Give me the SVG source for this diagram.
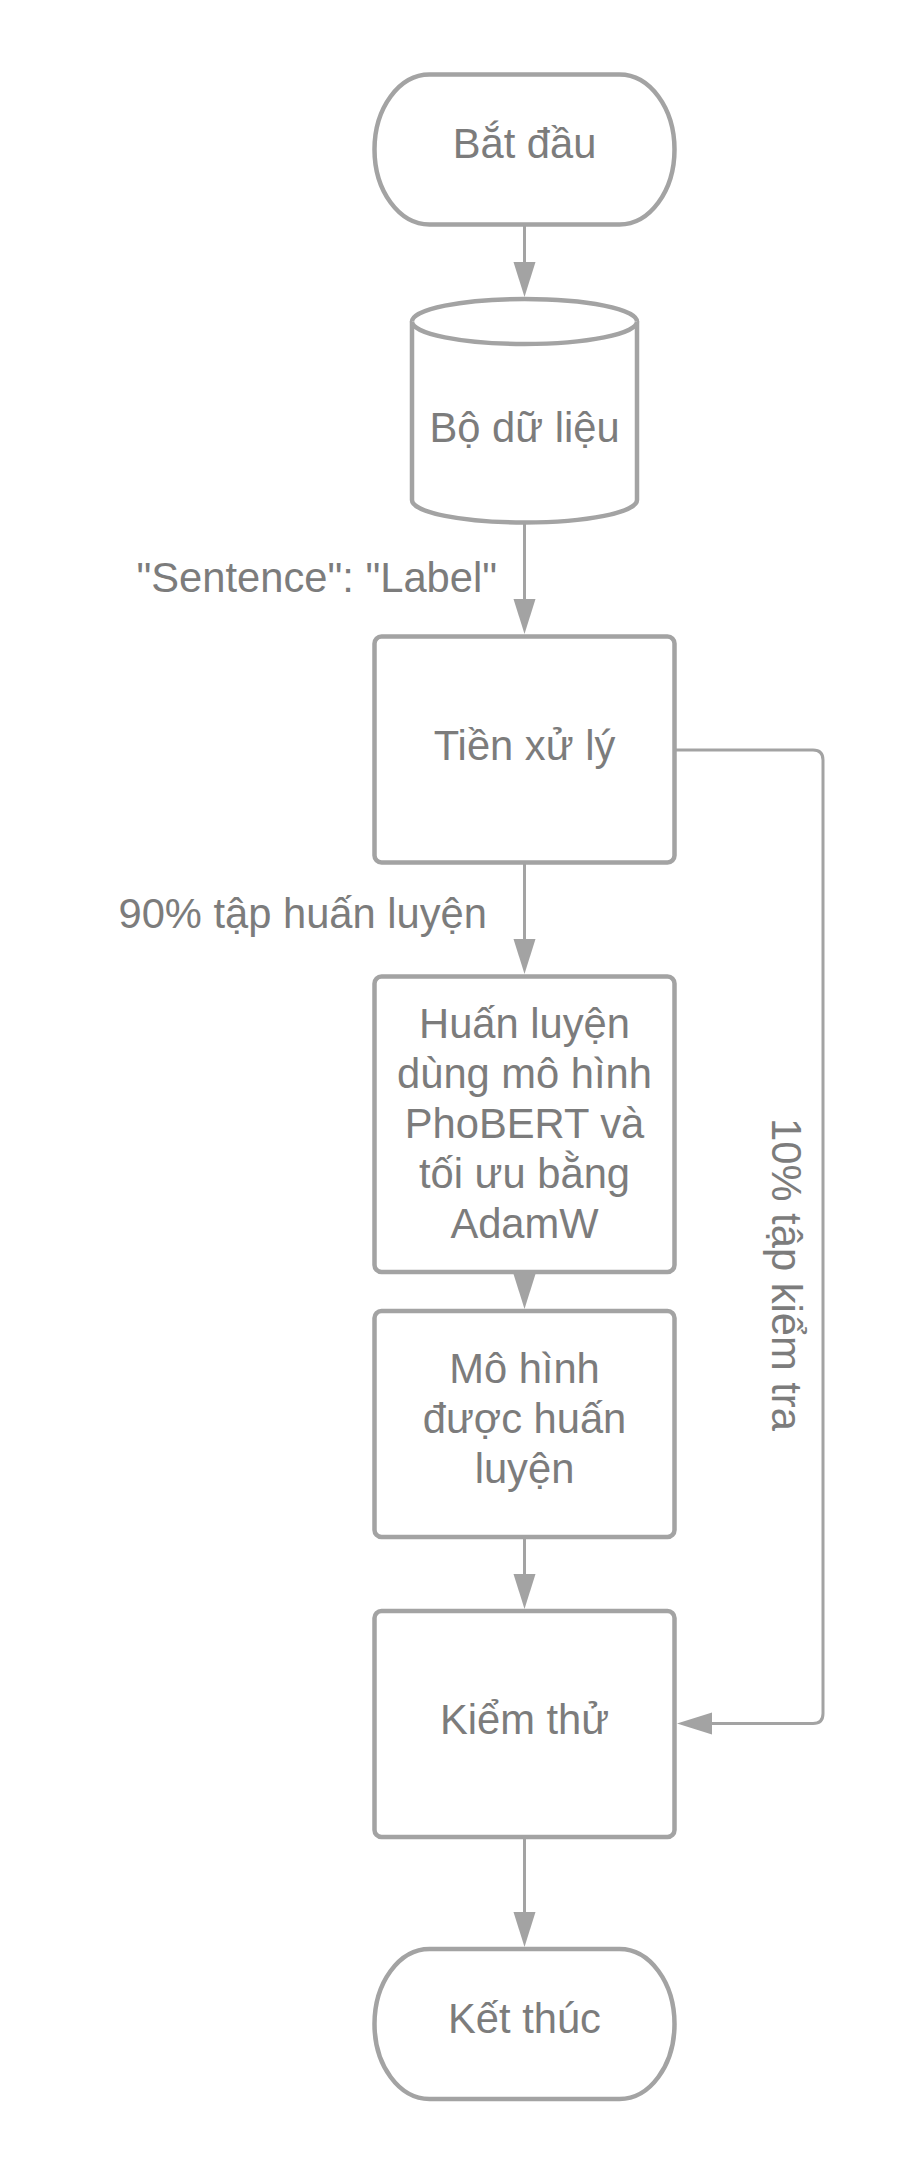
<svg xmlns="http://www.w3.org/2000/svg" width="900" height="2175" viewBox="0 0 900 2175">
<style>
.shape{fill:#ffffff;stroke:#a3a3a3;stroke-width:4.5}
.conn{fill:none;stroke:#a3a3a3;stroke-width:3}
.head{fill:#a3a3a3;stroke:none}
.t{font-family:"Liberation Sans",Arial,sans-serif;font-size:41.7px;fill:#7c7c7c}
.c{text-anchor:middle}
</style>
<rect width="900" height="2175" fill="#ffffff"/>
<g id="connectors">
  <line class="conn" x1="524.5" y1="224.5" x2="524.5" y2="263"/>
  <polygon class="head" points="513.5,262 535.5,262 524.5,297"/>
  <line class="conn" x1="524.5" y1="522.5" x2="524.5" y2="600"/>
  <polygon class="head" points="513.5,599 535.5,599 524.5,634"/>
  <line class="conn" x1="524.5" y1="862.5" x2="524.5" y2="940"/>
  <polygon class="head" points="513.5,939 535.5,939 524.5,974"/>
  <polygon class="head" points="513.5,1274 535.5,1274 524.5,1309"/>
  <line class="conn" x1="524.5" y1="1537" x2="524.5" y2="1575"/>
  <polygon class="head" points="513.5,1574 535.5,1574 524.5,1609"/>
  <line class="conn" x1="524.5" y1="1837" x2="524.5" y2="1913"/>
  <polygon class="head" points="513.5,1912 535.5,1912 524.5,1947"/>
  <path class="conn" d="M674.5,750 H813 Q823,750 823,760 V1713.5 Q823,1723.5 813,1723.5 H710"/>
  <polygon class="head" points="712,1712.5 712,1734.5 677,1723.5"/>
  <text class="t" x="497" y="592" text-anchor="end">"Sentence": "Label"</text>
  <text class="t" x="487" y="928" text-anchor="end">90% tập huấn luyện</text>
  <text class="t c" transform="translate(772,1274.5) rotate(90)">10% tập kiểm tra</text>
</g>
<g id="start">
  <rect class="shape" x="374.5" y="74.5" width="300" height="150" rx="55" ry="75"/>
  <text class="t c" x="524.5" y="158">Bắt đầu</text>
</g>
<g id="dataset">
  <path class="shape" d="M412,321.5 A112.5,22.5 0 0 1 637,321.5 L637,500 A112.5,22.5 0 0 1 412,500 Z"/>
  <path class="shape" fill="none" d="M412,321.5 A112.5,22.5 0 0 0 637,321.5"/>
  <text class="t c" x="524.5" y="442">Bộ dữ liệu</text>
</g>
<g id="preprocess">
  <rect class="shape" x="374.5" y="636.5" width="300" height="226" rx="7"/>
  <text class="t c" x="524.5" y="760">Tiền xử lý</text>
</g>
<g id="train">
  <rect class="shape" x="374.5" y="976.5" width="300" height="295.5" rx="7"/>
  <text class="t c" x="524.5" y="1038">Huấn luyện</text>
  <text class="t c" x="524.5" y="1088">dùng mô hình</text>
  <text class="t c" x="524.5" y="1138">PhoBERT và</text>
  <text class="t c" x="524.5" y="1188">tối ưu bằng</text>
  <text class="t c" x="524.5" y="1238">AdamW</text>
</g>
<g id="model">
  <rect class="shape" x="374.5" y="1311" width="300" height="226" rx="7"/>
  <text class="t c" x="524.5" y="1383">Mô hình</text>
  <text class="t c" x="524.5" y="1433">được huấn</text>
  <text class="t c" x="524.5" y="1483">luyện</text>
</g>
<g id="test">
  <rect class="shape" x="374.5" y="1611" width="300" height="226" rx="7"/>
  <text class="t c" x="524.5" y="1734">Kiểm thử</text>
</g>
<g id="end">
  <rect class="shape" x="374.5" y="1949" width="300" height="150" rx="55" ry="75"/>
  <text class="t c" x="524.5" y="2033">Kết thúc</text>
</g>
</svg>
